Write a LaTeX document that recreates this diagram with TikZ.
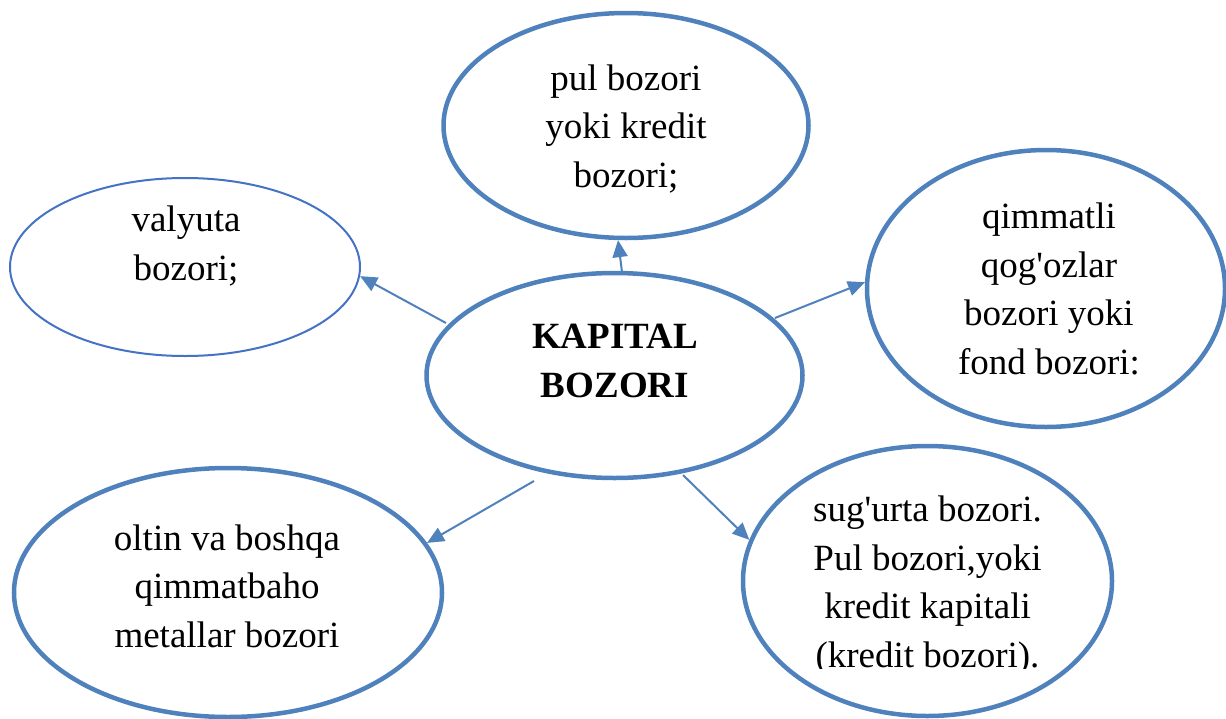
\documentclass[tikz,border=0pt]{standalone}
\usepackage{fontspec}
\setmainfont{Liberation Serif}[Ligatures=TeXOff]
\usetikzlibrary{shapes.geometric,arrows.meta,calc}
\definecolor{ebl}{HTML}{4F81BD}
\definecolor{ebt}{HTML}{4472C4}
\tikzset{
  bubble/.style={ellipse,draw=ebl,line width=4.5pt,inner sep=0pt,fill=white},
  thinbubble/.style={ellipse,draw=ebt,line width=2pt,inner sep=0pt,fill=white},
  txt/.style={align=center,inner sep=0pt,anchor=base,font=\fontsize{37}{48.5}\selectfont},
  link/.style={draw=ebl,line width=2pt,-{Triangle[length=17pt,width=15pt]}}
}
\begin{document}
\begin{tikzpicture}[x=1pt,y=-1pt]
\useasboundingbox (0,0) rectangle (1226,718);
\node[bubble,minimum width=365pt,minimum height=225pt] (pul) at (626,125.5) {};
\node[thinbubble,minimum width=350pt,minimum height=178pt] (val) at (185,267) {};
\node[bubble,minimum width=376pt,minimum height=205pt] (kap) at (614.5,375.5) {};
\node[bubble,minimum width=358pt,minimum height=277pt] (qim) at (1046,288.5) {};
\node[bubble,minimum width=369pt,minimum height=270pt] (sug) at (927.5,581) {};
\node[bubble,minimum width=428pt,minimum height=249pt] (olt) at (228,592.5) {};

\node[txt] (tpul) at (626,187) {pul bozori\\yoki kredit\\bozori;};
\node[txt] (tval) at (186,280) {valyuta\\bozori;};
\node[txt,font=\fontsize{37}{48.5}\selectfont\bfseries] (tkap) at (615,397) {KAPITAL\\BOZORI};
\begin{scope}
\clip (880,170) rectangle (1210,377);
\node[txt] (tqim) at (1049,374) {qimmatli\\qog'ozlar\\bozori yoki\\fond bozori:};
\end{scope}
\begin{scope}
\clip (760,470) rectangle (1100,668);
\node[txt] (tsug) at (927.5,667) {sug'urta bozori.\\Pul bozori,yoki\\kredit kapitali\\(kredit bozori).};
\end{scope}
\node[txt] (tolt) at (227,647) {oltin va boshqa\\qimmatbaho\\metallar bozori};

\draw[link] ($(kap.center)+(7.5,-103.5)$) -- (pul.266);
\draw[link] ($(kap.center)+(-168.5,-52.5)$) -- (val.-3);
\draw[link] ($(kap.center)+(160.5,-57.5)$) -- (qim.178);
\draw[link] ($(kap.center)+(-80.5,105.5)$) -- (olt.14);
\draw[link] ($(kap.center)+(68.5,99.5)$) -- (sug.167.7);
\end{tikzpicture}
\end{document}
